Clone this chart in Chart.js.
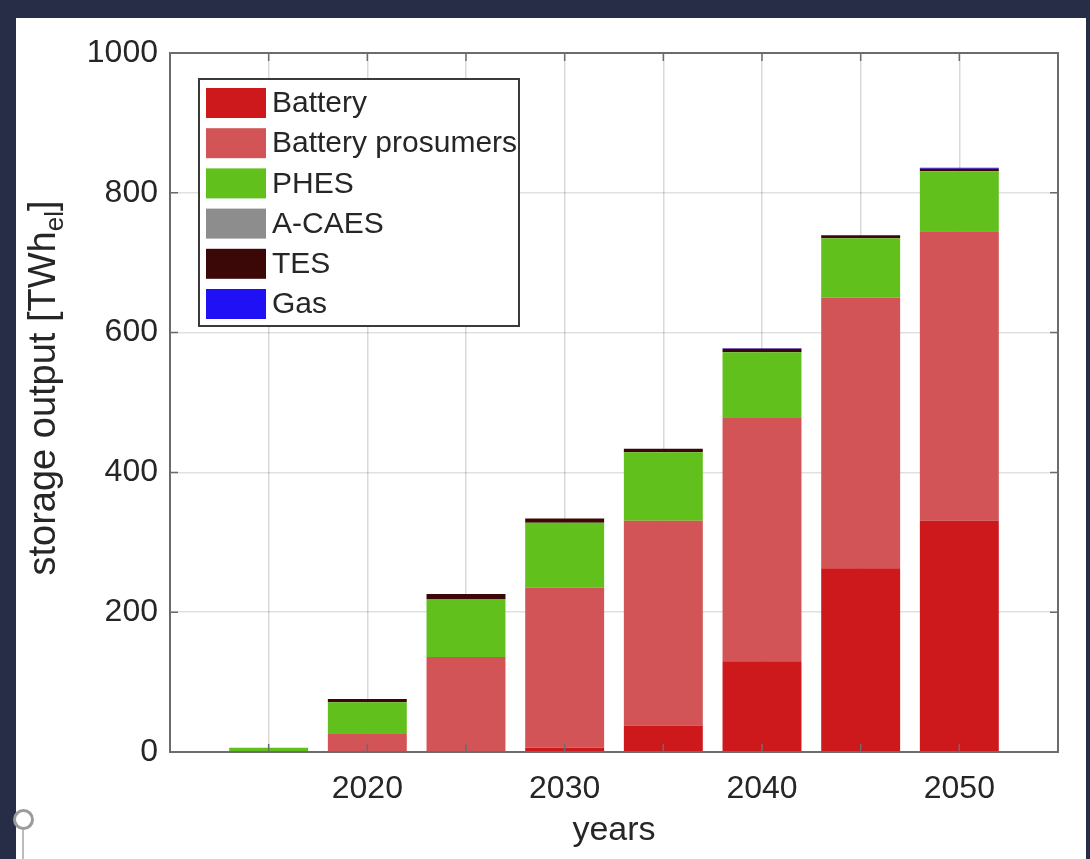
<!DOCTYPE html>
<html>
<head>
<meta charset="utf-8">
<script src="https://cdn.jsdelivr.net/npm/chart.js@4.4.1/dist/chart.umd.min.js"></script>
<style>
  body { margin: 0; background: #272d47; width: 1090px; height: 859px; overflow: hidden; position: relative; }
  #panel { position: absolute; left: 16px; top: 18px; width: 1070px; height: 841px; background: #fff; }
  #myChart { position: absolute; left: 0; top: 0; }
  #ring { position: absolute; left: -3px; top: 791px; width: 15px; height: 15px; border: 3px solid #9b9b9b; border-radius: 50%; }
  #ringLine { position: absolute; left: 6px; top: 812px; width: 2px; height: 30px; background: #bbb; }
</style>
</head>
<body>
<div id="panel">
  <canvas id="myChart" width="1070" height="841"></canvas>
  <div id="ring"></div>
  <div id="ringLine"></div>
</div>
<script>
// storage output per year, TWh_el
let years = [2015, 2020, 2025, 2030, 2035, 2040, 2045, 2050];
let battery = [0, 0, 0, 6, 38, 130, 263, 331];
let batteryProsumers = [0, 27, 136, 229, 293, 348, 387, 414];
let phes = [6, 44, 83, 93, 98, 94, 85, 86];
let aCaes = [0, 0, 0, 0, 0, 0, 0, 0];
let tes = [0, 5, 7, 6, 5, 5, 3.5, 3.5];
let gas = [0, 0, 0, 0, 0, 0.5, 1, 1.5];

let seriesNames = ['Battery', 'Battery prosumers', 'PHES', 'A-CAES', 'TES', 'Gas'];
let seriesColors = ['#cd191c', '#d25457', '#61c01c', '#8d8d8d', '#3c0707', '#2010f5'];
let yTicks = [0, 200, 400, 600, 800, 1000];
let xLabels = [2020, 2030, 2040, 2050];

let allSeries = [battery, batteryProsumers, phes, aCaes, tes, gas];
let textColor = '#262626';
let fontFam = '"Liberation Sans", Arial, sans-serif';

let datasets = allSeries.map(function (vals, i) {
    return {
        label: seriesNames[i],
        backgroundColor: seriesColors[i],
        borderWidth: 0,
        data: years.map((yr, j) => ({x: yr, y: vals[j]})),
        barPercentage: 1,
        categoryPercentage: 0.8
    };
});

// axes box, inward tick marks, y label with subscript, legend inside plot
let extras = {
    id: 'extras',
    afterDraw(chart) {
        let ctx = chart.ctx;
        let a = chart.chartArea;
        let xs = chart.scales.x;
        let ys = chart.scales.y;
        ctx.save();
        ctx.strokeStyle = '#6c6c6c';
        ctx.lineWidth = 2;
        ctx.strokeRect(a.left, a.top, a.right - a.left, a.bottom - a.top);

        ctx.lineWidth = 1.5;
        ctx.beginPath();
        for (let v = 2015; v <= 2050; v += 5) {
            let px = xs.getPixelForValue(v);
            ctx.moveTo(px, a.bottom); ctx.lineTo(px, a.bottom - 8);
            ctx.moveTo(px, a.top); ctx.lineTo(px, a.top + 8);
        }
        yTicks.forEach(function (v) {
            let py = ys.getPixelForValue(v);
            ctx.moveTo(a.left, py); ctx.lineTo(a.left + 8, py);
            ctx.moveTo(a.right, py); ctx.lineTo(a.right - 8, py);
        });
        ctx.stroke();

        // y axis title
        let main = 'storage output [TWh';
        let sub = 'el';
        let tail = ']';
        ctx.fillStyle = textColor;
        ctx.font = '38px ' + fontFam;
        let w1 = ctx.measureText(main).width;
        let w3 = ctx.measureText(tail).width;
        ctx.font = '26px ' + fontFam;
        let w2 = ctx.measureText(sub).width;
        let total = w1 + w2 + w3;
        ctx.translate(39, 370);
        ctx.rotate(-Math.PI / 2);
        ctx.textBaseline = 'alphabetic';
        ctx.textAlign = 'left';
        let x0 = -total / 2;
        ctx.font = '38px ' + fontFam;
        ctx.fillText(main, x0, 0);
        ctx.font = '26px ' + fontFam;
        ctx.fillText(sub, x0 + w1, 8);
        ctx.font = '38px ' + fontFam;
        ctx.fillText(tail, x0 + w1 + w2, 0);
        ctx.restore();

        // legend
        ctx.save();
        let lx = 183, ly = 61, lw = 320, lh = 247;
        ctx.fillStyle = '#fff';
        ctx.fillRect(lx, ly, lw, lh);
        ctx.strokeStyle = '#3a3a3a';
        ctx.lineWidth = 2;
        ctx.strokeRect(lx, ly, lw, lh);
        ctx.font = '30px ' + fontFam;
        ctx.textBaseline = 'middle';
        ctx.textAlign = 'left';
        chart.data.datasets.forEach(function (ds, i) {
            let cy = ly + 24 + i * 40.2;
            ctx.fillStyle = ds.backgroundColor;
            ctx.fillRect(lx + 7, cy - 15, 60, 30);
            ctx.fillStyle = textColor;
            ctx.fillText(ds.label, lx + 73, cy + 1);
        });
        ctx.restore();
    }
};

let ctx = document.getElementById('myChart').getContext('2d');
let chart = new Chart(ctx, {
    type: 'bar',
    data: { datasets: datasets },
    options: {
        responsive: false,
        animation: false,
        events: [],
        layout: { padding: { left: 0, right: 28, top: 35, bottom: 0 } },
        plugins: {
            legend: { display: false },
            tooltip: { enabled: false }
        },
        scales: {
            x: {
                type: 'linear',
                stacked: true,
                min: 2010,
                max: 2055,
                offset: false,
                z: 1,
                afterFit(scale) { scale.height = 107; },
                grid: { color: 'rgba(0,0,0,0.15)', lineWidth: 1.5, drawTicks: false, offset: false },
                border: { display: false },
                ticks: {
                    stepSize: 5,
                    padding: 18,
                    maxRotation: 0,
                    autoSkip: false,
                    color: textColor,
                    font: { family: fontFam, size: 32 },
                    callback: function (v) { return xLabels.includes(v) ? String(v) : ''; }
                },
                title: {
                    display: true,
                    text: 'years',
                    color: textColor,
                    padding: { top: 0, bottom: 8 },
                    font: { family: fontFam, size: 34 }
                }
            },
            y: {
                stacked: true,
                min: 0,
                max: 1000,
                afterFit(scale) { scale.width = 154; },
                grid: { color: 'rgba(0,0,0,0.12)', lineWidth: 1.5, drawTicks: false },
                border: { display: false },
                ticks: {
                    stepSize: 200,
                    padding: 12,
                    color: textColor,
                    font: { family: fontFam, size: 32 },
                    callback: function (v) { return String(v); }
                }
            }
        }
    },
    plugins: [extras]
});
</script>
</body>
</html>
